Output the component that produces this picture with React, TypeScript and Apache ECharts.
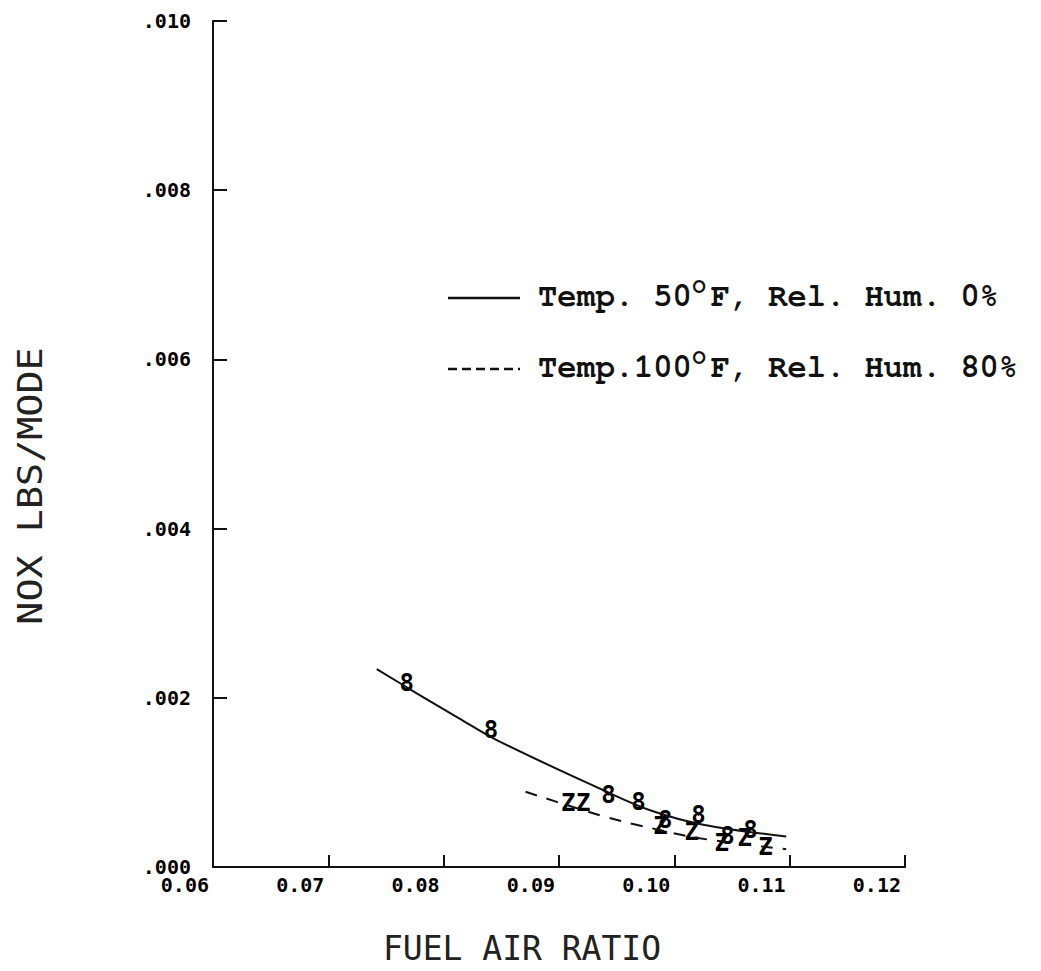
import React, { useEffect, useRef } from "react";
import * as echarts from "echarts";

// Fitted curve, 50°F / 0% relative humidity
const fitDryX = [0.0742, 0.0777, 0.0813, 0.0846, 0.0938, 0.0979, 0.1025, 0.1097];
const fitDryY = [0.00234, 0.00205, 0.00176, 0.0015, 0.00091, 0.00067, 0.0005, 0.00036];

// Fitted curve, 100°F / 80% relative humidity
const fitHumidX = [0.0871, 0.0898, 0.0941, 0.0967, 0.1022, 0.1097];
const fitHumidY = [0.00089, 0.00077, 0.00059, 0.0005, 0.00034, 0.00021];

// Measured points ("8" = dry run, "Z" = humid run)
const dryX = [0.0768, 0.0841, 0.0943, 0.0969, 0.0992, 0.1021, 0.1046, 0.1066];
const dryY = [0.00217, 0.00162, 0.00085, 0.00077, 0.00056, 0.00061, 0.00037, 0.00044];
const humidX = [0.0908, 0.0921, 0.0988, 0.1015, 0.1041, 0.1061, 0.1079];
const humidY = [0.00076, 0.00076, 0.00048, 0.00041, 0.00028, 0.00034, 0.00024];

const legendRows = [
  { pre: "Temp. 50", post: "F, Rel. Hum. 0%", dash: null as number[] | null },
  { pre: "Temp.100", post: "F, Rel. Hum. 80%", dash: [9, 5] },
];

const zip = (xs: number[], ys: number[]) => xs.map((x, i) => [x, ys[i]]);

const tickFont = "'DejaVu Sans Mono', monospace";
const legendFont = "'Nimbus Mono PS', 'FreeMono', 'Courier New', 'Liberation Mono', monospace";

const markerLabel = (ch: string) => ({
  show: true,
  position: "inside",
  formatter: () => ch,
  color: "#000",
  textBorderWidth: 0,
  textBorderColor: "transparent",
  textShadowBlur: 0,
  opacity: 1,
  fontFamily: tickFont,
  fontWeight: 900,
  fontSize: 24,
});

export default function App() {
  const ref = useRef<HTMLDivElement>(null);

  useEffect(() => {
    document.body.style.margin = "0";
    const chart = echarts.init(ref.current!, null, { renderer: "svg" });

    const legendX = 538;
    const legendYs = [296, 367];
    const fs = 32;
    const cw = fs * 0.6;

    const legendGraphics: any[] = [];
    legendRows.forEach((row, i) => {
      const y = legendYs[i];
      legendGraphics.push({
        type: "line",
        shape: { x1: 448, y1: y + 2, x2: 520, y2: y + 2 },
        style: { stroke: "#111", lineWidth: 2.5, lineDash: row.dash || undefined },
      });
      legendGraphics.push({
        type: "text",
        x: legendX,
        y,
        style: { text: row.pre, font: `bold ${fs}px ${legendFont}`, fill: "#111", verticalAlign: "middle" },
      });
      legendGraphics.push({
        type: "text",
        x: legendX + 8 * cw + 1,
        y: y - 10,
        style: { text: "O", font: `bold 22px ${legendFont}`, fill: "#111", verticalAlign: "middle" },
      });
      legendGraphics.push({
        type: "text",
        x: legendX + 9 * cw,
        y,
        style: { text: row.post, font: `bold ${fs}px ${legendFont}`, fill: "#111", verticalAlign: "middle" },
      });
    });

    chart.setOption({
      animation: false,
      backgroundColor: "#fff",
      grid: { left: 213, right: 136, top: 21, bottom: 104 },
      xAxis: {
        type: "value",
        min: 0.06,
        max: 0.12,
        interval: 0.01,
        axisLine: { show: true, lineStyle: { color: "#111", width: 2 } },
        axisTick: { show: true, inside: true, length: 12, lineStyle: { color: "#111", width: 2 } },
        axisLabel: {
          align: "right",
          margin: 8,
          padding: [0, 4, 0, 0],
          color: "#000",
          fontFamily: tickFont,
          fontWeight: "bold",
          fontSize: 20,
          formatter: (v: number) => v.toFixed(2),
        },
        splitLine: { show: false },
      },
      yAxis: {
        type: "value",
        min: 0,
        max: 0.01,
        interval: 0.002,
        axisLine: { show: true, lineStyle: { color: "#111", width: 2 } },
        axisTick: { show: true, inside: true, length: 14, lineStyle: { color: "#111", width: 2 } },
        axisLabel: {
          margin: 22,
          color: "#000",
          fontFamily: tickFont,
          fontWeight: "bold",
          fontSize: 20,
          formatter: (v: number) => v.toFixed(3).replace(/^0/, ""),
        },
        splitLine: { show: false },
      },
      series: [
        {
          type: "line",
          data: zip(fitDryX, fitDryY),
          smooth: 0.35,
          symbol: "none",
          lineStyle: { color: "#111", width: 2 },
        },
        {
          type: "line",
          data: zip(fitHumidX, fitHumidY),
          smooth: 0.35,
          symbol: "none",
          lineStyle: { color: "#111", width: 2, type: [12, 10] },
        },
        {
          type: "scatter",
          data: zip(dryX, dryY),
          symbol: "circle",
          symbolSize: 1,
          itemStyle: { color: "#000", opacity: 1 },
          label: markerLabel("8"),
        },
        {
          type: "scatter",
          data: zip(humidX, humidY),
          symbol: "circle",
          symbolSize: 1,
          itemStyle: { color: "#000", opacity: 1 },
          label: markerLabel("Z"),
        },
      ],
      graphic: [
        {
          type: "text",
          x: 30,
          y: 486,
          rotation: Math.PI / 2,
          scaleX: 1.13,
          style: {
            text: "NOX LBS/MODE",
            font: `34px 'DejaVu Sans Mono', monospace`,
            fill: "#222",
            align: "center",
            verticalAlign: "middle",
          },
        },
        {
          type: "text",
          x: 522,
          y: 948,
          style: {
            text: "FUEL AIR RATIO",
            font: `33px 'DejaVu Sans Mono', monospace`,
            fill: "#222",
            align: "center",
            verticalAlign: "middle",
          },
        },
        ...legendGraphics,
      ],
    });

    return () => chart.dispose();
  }, []);

  return (
    <div
      ref={ref}
      style={{ position: "absolute", left: 0, top: 0, width: 1041, height: 971, background: "#fff" }}
    />
  );
}
